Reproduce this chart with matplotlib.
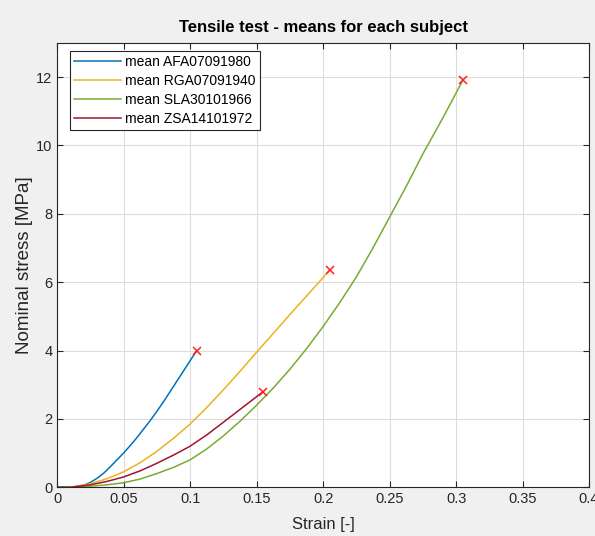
import matplotlib.pyplot as plt

plt.rcParams['font.family'] = ['Liberation Sans', 'DejaVu Sans']

# mean curves (strain [-], stress [MPa])
afa_strain = [0.0, 0.01, 0.015, 0.02, 0.025, 0.03, 0.035, 0.04, 0.045, 0.05, 0.055, 0.06,
              0.065, 0.07, 0.075, 0.08, 0.085, 0.09, 0.095, 0.1, 0.105]
afa_stress = [0.0, 0.0, 0.02, 0.06, 0.14, 0.26, 0.41, 0.6, 0.8, 1.0, 1.22, 1.45,
              1.7, 1.95, 2.22, 2.5, 2.8, 3.1, 3.4, 3.7, 4.0]

rga_strain = [0.0, 0.01, 0.025, 0.0375, 0.05, 0.0625, 0.075, 0.0875, 0.1, 0.1125,
              0.125, 0.1375, 0.15, 0.1625, 0.175, 0.19, 0.205]
rga_stress = [0.0, 0.0, 0.1, 0.25, 0.45, 0.72, 1.05, 1.43, 1.85, 2.33,
              2.85, 3.39, 3.95, 4.5, 5.05, 5.7, 6.35]

sla_strain = [0.0, 0.01, 0.025, 0.0375, 0.05, 0.0625, 0.075, 0.0875, 0.1, 0.1125, 0.125,
              0.1375, 0.15, 0.1625, 0.175, 0.1875, 0.2, 0.2125, 0.225, 0.2375, 0.25,
              0.2625, 0.275, 0.29, 0.305]
sla_stress = [0.0, 0.0, 0.03, 0.07, 0.13, 0.24, 0.4, 0.58, 0.8, 1.12, 1.5,
              1.93, 2.4, 2.9, 3.45, 4.05, 4.7, 5.4, 6.15, 7.0, 7.9,
              8.8, 9.75, 10.8, 11.9]

zsa_strain = [0.0, 0.01, 0.025, 0.0375, 0.05, 0.0625, 0.075, 0.0875, 0.1, 0.1125,
              0.125, 0.14, 0.155]
zsa_stress = [0.0, 0.0, 0.07, 0.17, 0.3, 0.48, 0.7, 0.94, 1.2, 1.53,
              1.9, 2.35, 2.8]

labels = ['mean AFA07091980', 'mean RGA07091940', 'mean SLA30101966', 'mean ZSA14101972']
colors = ['#0072BD', '#EDB120', '#77AC30', '#A2142F']

fig = plt.figure(figsize=(5.95, 5.36), dpi=100, facecolor='#f0f0f0')
ax = fig.add_axes([0.096, 0.091, 0.894, 0.829])

curves = [(afa_strain, afa_stress), (rga_strain, rga_stress),
          (sla_strain, sla_stress), (zsa_strain, zsa_stress)]
for (x, y), lab, c in zip(curves, labels, colors):
    ax.plot(x, y, color=c, lw=1.1, label=lab)

# failure points
for x, y in curves:
    ax.plot(x[-1], y[-1], 'x', color='#ff2020', ms=6, mew=1.1)

ax.set_xlim(0, 0.4)
ax.set_ylim(0, 13)
ax.set_xticks([0, 0.05, 0.1, 0.15, 0.2, 0.25, 0.3, 0.35, 0.4])
ax.set_xticklabels(['0', '0.05', '0.1', '0.15', '0.2', '0.25', '0.3', '0.35', '0.4'])
ax.set_yticks([0, 2, 4, 6, 8, 10, 12])
ax.grid(True, color='#dcdcdc', lw=0.8)
ax.set_axisbelow(True)
ax.tick_params(direction='in', top=True, right=True, labelsize=10.5,
               colors='#262626', length=4)
for s in ax.spines.values():
    s.set_color('#262626')
    s.set_linewidth(0.8)

ax.set_title('Tensile test - means for each subject', fontsize=12, fontweight='bold', pad=8)
ax.set_xlabel('Strain [-]', fontsize=12, color='#262626', labelpad=8)
ax.set_ylabel('Nominal stress [MPa]', fontsize=13.5, color='#262626', labelpad=2)

leg = ax.legend(loc='upper left', bbox_to_anchor=(0.0244, 0.982), borderaxespad=0,
                fontsize=10, fancybox=False, framealpha=1, edgecolor='#262626',
                borderpad=0.3, labelspacing=0.35, handlelength=3.4, handletextpad=0.25)
leg.get_frame().set_linewidth(0.8)

fig.savefig('out.png', dpi=100, facecolor=fig.get_facecolor())
